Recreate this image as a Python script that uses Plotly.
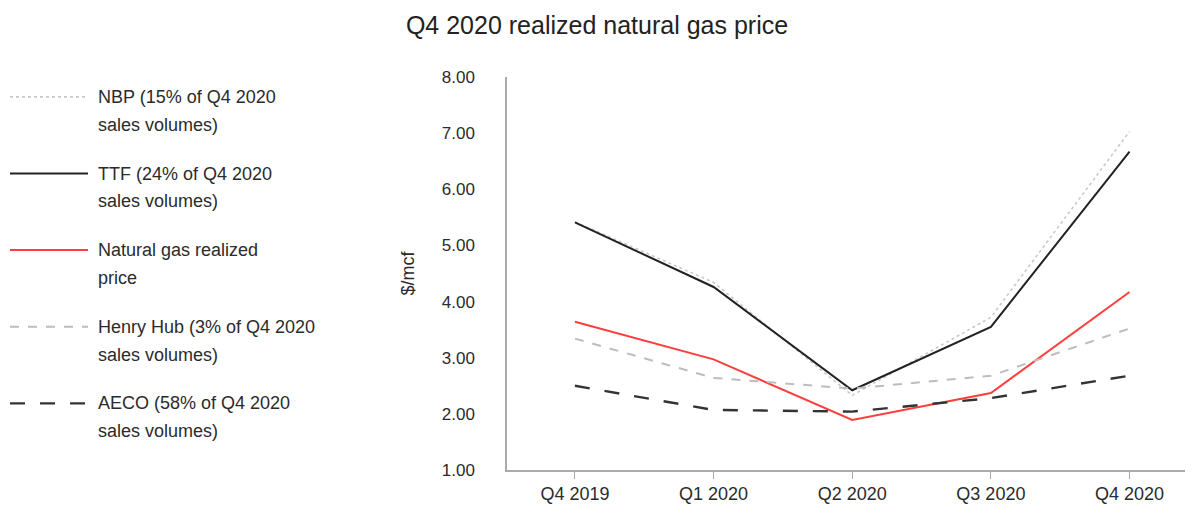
import plotly.graph_objects as go

# Quarterly prices, $/mcf
quarters = ["Q4 2019", "Q1 2020", "Q2 2020", "Q3 2020", "Q4 2020"]
nbp = [5.42, 4.34, 2.33, 3.72, 7.03]
ttf = [5.41, 4.26, 2.42, 3.55, 6.67]
realized = [3.64, 2.97, 1.89, 2.37, 4.17]
henry_hub = [3.34, 2.64, 2.45, 2.68, 3.52]
aeco = [2.50, 2.07, 2.04, 2.28, 2.68]

series_names = [
    ["NBP (15% of Q4 2020", "sales volumes)"],
    ["TTF (24% of Q4 2020", "sales volumes)"],
    ["Natural gas realized", "price"],
    ["Henry Hub (3% of Q4 2020", "sales volumes)"],
    ["AECO (58% of Q4 2020", "sales volumes)"],
]
y_ticks = [1, 2, 3, 4, 5, 6, 7, 8]

W, H = 1194, 513
ML, MR, MT, MB = 507, 9, 77, 41
FONT = "Liberation Sans, Arial"
TEXT = "#2b2b2b"

styles = [
    dict(color="#c9c9c9", width=1.6, dash="dot"),
    dict(color="#222222", width=2.0, dash="solid"),
    dict(color="#ff3d3d", width=2.0, dash="solid"),
    dict(color="#bdbdbd", width=2.0, dash="dash"),
    dict(color="#333333", width=2.4, dash="longdash"),
]
all_series = [nbp, ttf, realized, henry_hub, aeco]

xs = list(range(len(quarters)))
fig = go.Figure()
for lines, vals, st in zip(series_names, all_series, styles):
    fig.add_trace(go.Scatter(x=xs, y=vals, mode="lines", name=" ".join(lines),
                             line=st, showlegend=False, hoverinfo="x+y"))


def px_x(p):
    return (p - ML) / (W - ML - MR)


def px_y(p):
    return 1 - (p - MT) / (H - MT - MB)


# Legend drawn at the left: sample line + two-line label per series
legend_rows = [97, 174, 251, 328, 405]
line_gap = 28
shapes = []
annotations = []
for lines, st, row in zip(series_names, styles, legend_rows):
    shapes.append(dict(type="line", xref="paper", yref="paper",
                       x0=px_x(10), x1=px_x(88), y0=px_y(row), y1=px_y(row),
                       line=dict(color=st["color"], width=st["width"], dash=st["dash"])))
    for k, txt in enumerate(lines):
        annotations.append(dict(xref="paper", yref="paper", x=px_x(96),
                                y=px_y(row + k * line_gap),
                                xanchor="left", yanchor="middle", align="left",
                                text=txt, showarrow=False,
                                font=dict(family=FONT, size=18, color=TEXT)))

fig.update_layout(
    width=W, height=H,
    margin=dict(l=ML, r=MR, t=MT, b=MB),
    paper_bgcolor="white", plot_bgcolor="white",
    title=dict(text="Q4 2020 realized natural gas price", x=597 / W, xanchor="center",
               y=1 - 25 / H, yanchor="middle",
               font=dict(family=FONT, size=25, color="#222222")),
    font=dict(family=FONT, size=17, color=TEXT),
    shapes=shapes,
    annotations=annotations,
    xaxis=dict(tickvals=xs, ticktext=quarters, range=[-0.49, 4.4],
               showgrid=False, zeroline=False, showline=True, linecolor="#aaaaaa",
               linewidth=1.5, ticks="outside", ticklen=7, tickcolor="#aaaaaa",
               tickfont=dict(size=18, color=TEXT)),
    yaxis=dict(range=[1, 8], tickvals=y_ticks, tickformat=".2f",
               showgrid=False, zeroline=False, showline=True, linecolor="#aaaaaa",
               linewidth=1.5, ticks="", ticklabelstandoff=27,
               tickfont=dict(size=17, color=TEXT),
               title=dict(text="$/mcf", standoff=22,
                          font=dict(size=18, color=TEXT))),
)

fig.write_html("out.html")
